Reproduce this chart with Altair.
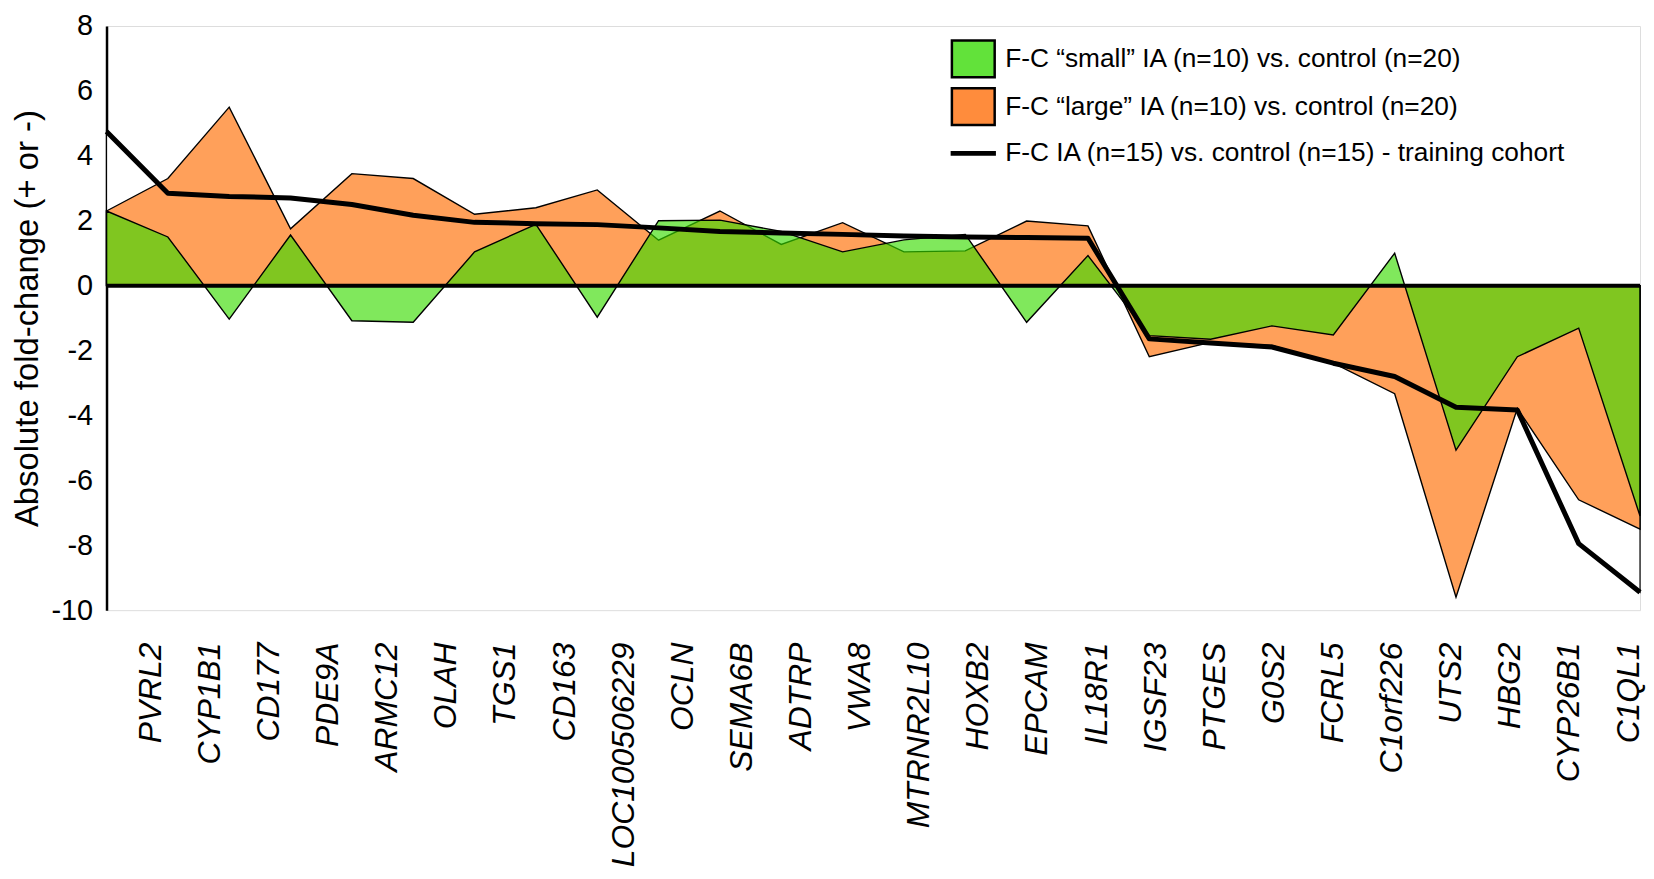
import altair as alt
import pandas as pd

genes = ["PVRL2", "CYP1B1", "CD177", "PDE9A", "ARMC12", "OLAH", "TGS1", "CD163",
         "LOC100506229", "OCLN", "SEMA6B", "ADTRP", "VWA8", "MTRNR2L10", "HOXB2",
         "EPCAM", "IL18R1", "IGSF23", "PTGES", "G0S2", "FCRL5", "C1orf226", "UTS2",
         "HBG2", "CYP26B1", "C1QL1"]

small_ia = [2.3, 1.5, -1.03, 1.56, -1.08, -1.13, 1.04, 1.89, -0.97, 2.0, 2.02, 1.67,
            1.04, 1.41, 1.58, -1.13, 0.93, -1.54, -1.65, -1.24, -1.52, 1.0, -5.07,
            -2.19, -1.31, -7.1]
large_ia = [2.3, 3.3, 5.5, 1.75, 3.45, 3.3, 2.2, 2.4, 2.95, 1.4, 2.3, 1.27, 1.94,
            1.04, 1.07, 1.99, 1.84, -2.19, -1.75, -1.84, -2.39, -3.33, -9.6, -3.78,
            -6.6, -7.5]
training = [4.75, 2.85, 2.75, 2.7, 2.5, 2.17, 1.95, 1.91, 1.88, 1.78, 1.67, 1.62,
            1.58, 1.53, 1.5, 1.48, 1.46, -1.64, -1.77, -1.89, -2.39, -2.8, -3.75,
            -3.83, -7.95, -9.45]

s_small = "F-C \u201csmall\u201d IA (n=10) vs. control (n=20)"
s_large = "F-C \u201clarge\u201d IA (n=10) vs. control (n=20)"
s_train = "F-C  IA (n=15) vs. control (n=15) - training cohort"
series_names = [s_small, s_large, s_train]
legend_colors = ["#62e23a", "#ff8c3c", "#000000"]
y_ticks = [-10, -8, -6, -4, -2, 0, 2, 4, 6, 8]
zero_line = [0]

rows = []
for name, vals in [(s_small, small_ia), (s_large, large_ia), (s_train, training)]:
    for g, v in zip(genes, vals):
        rows.append({"gene": g, "series": name, "value": v})
df = pd.DataFrame(rows)

FONT = "Liberation Sans"
y_scale = alt.Scale(domain=[-10, 8], nice=False, zero=False)

x_enc = alt.X("gene:N", sort=genes, scale=alt.Scale(type="point", padding=0), axis=None)
y_enc = alt.Y(
    "value:Q", stack=None, scale=y_scale,
    axis=alt.Axis(values=y_ticks, grid=False, ticks=False, domainColor="black",
                  domainWidth=2.5, labelFontSize=29, labelColor="black",
                  labelPadding=14, labelExpr="'' + datum.value",
                  title="Absolute fold-change (+ or -)", titleFontSize=33,
                  titleFontWeight="normal", titleColor="black", titlePadding=6),
)

base = alt.Chart(df)

train_area = base.transform_filter(alt.datum.series == s_train).mark_area(
    fill="white", stroke="black", strokeWidth=1.2
).encode(x=x_enc, y=y_enc, y2=alt.datum(0))

large_area = base.transform_filter(alt.datum.series == s_large).mark_area(
    fill="#ffa05a", stroke="black", strokeWidth=1.4
).encode(x=x_enc, y=y_enc, y2=alt.datum(0))

small_area = base.transform_filter(alt.datum.series == s_small).mark_area(
    fill="#38db00", fillOpacity=0.64, stroke="black", strokeWidth=1.4, strokeOpacity=1
).encode(x=x_enc, y=y_enc, y2=alt.datum(0))

zero_rule = alt.Chart(pd.DataFrame({"z": zero_line})).mark_rule(
    color="black", strokeWidth=4
).encode(y=alt.Y("z:Q", scale=y_scale))

train_line = base.transform_filter(alt.datum.series == s_train).mark_line(
    color="black", strokeWidth=5, strokeJoin="round"
).encode(x=x_enc, y=y_enc)

sq = "M-1,-0.86H1V0.86H-1Z"
ln = "M-1,-0.05H1V0.05H-1Z"
leg = alt.Legend(title=None, orient="none", legendX=848, legendY=10, padding=0,
                 labelFontSize=26.4, labelColor="black", labelLimit=0, labelOffset=9,
                 rowPadding=0, symbolSize=1849, symbolStrokeWidth=2.5, symbolOpacity=1)
legend_layer = base.transform_filter("false").mark_point(
    filled=True, strokeWidth=2.5
).encode(
    fill=alt.Fill("series:N", scale=alt.Scale(domain=series_names, range=legend_colors), legend=leg),
    stroke=alt.Stroke("series:N", scale=alt.Scale(domain=series_names, range=["black", "black", "black"]), legend=leg),
    shape=alt.Shape("series:N", scale=alt.Scale(domain=series_names, range=[sq, sq, ln]), legend=leg),
)

inner = alt.layer(train_area, large_area, small_area, zero_rule, train_line, legend_layer)

label_layer = alt.Chart(pd.DataFrame({"label": genes})).mark_point(opacity=0).encode(
    x=alt.X("label:N", sort=genes,
            scale=alt.Scale(type="point", padding=0.4714, align=0.786),
            axis=alt.Axis(orient="bottom", title=None, domain=False, ticks=False,
                          labelAngle=270, labelFontSize=32, labelFontStyle="italic",
                          labelColor="black", labelPadding=32, labelLimit=0))
)

chart = alt.layer(inner, label_layer).resolve_scale(x="independent").properties(
    width=1541, height=587,
    autosize=alt.AutoSizeParams(type="none"),
    padding={"left": 99, "top": 16, "right": 6, "bottom": 260},
).configure_view(stroke=None).configure(font=FONT, background="white")

chart.save("out.html", embed_options={"renderer": "svg", "actions": False})
